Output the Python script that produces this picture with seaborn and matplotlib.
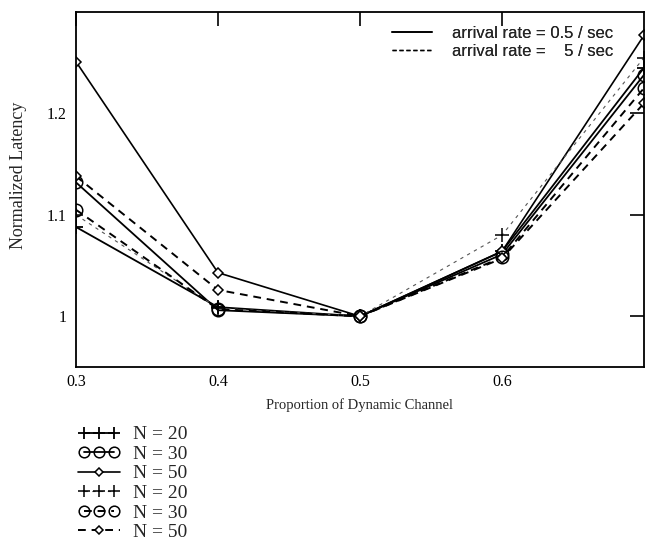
#!/usr/bin/env python3
"""
Normalized latency vs. proportion of dynamic channel
"""
import matplotlib
matplotlib.use('Agg')
import matplotlib.pyplot as plt
import seaborn as sns
from matplotlib.lines import Line2D
from matplotlib.legend_handler import HandlerLine2D

# data
proportion = [0.3, 0.4, 0.5, 0.6, 0.7]

slow_n20 = [1.088, 1.009, 1.0, 1.064, 1.245]
slow_n30 = [1.132, 1.006, 1.0, 1.061, 1.238]
slow_n50 = [1.251, 1.043, 1.0, 1.064, 1.277]

fast_n20 = [1.100, 1.008, 1.0, 1.080, 1.255]
fast_n30 = [1.105, 1.007, 1.0, 1.058, 1.225]
fast_n50 = [1.138, 1.026, 1.0, 1.057, 1.210]

series_labels = ['N = 20', 'N = 30', 'N = 50', 'N = 20', 'N = 30', 'N = 50']
rate_labels = ['arrival rate = 0.5 / sec', 'arrival rate =    5 / sec']

x_ticks = [0.3, 0.4, 0.5, 0.6]
x_tick_labels = ['0.3', '0.4', '0.5', '0.6']
y_ticks = [1.0, 1.1, 1.2]
y_tick_labels = ['1', '1.1', '1.2']

sns.set_style('white')
plt.rcParams['font.family'] = ['Liberation Serif', 'DejaVu Serif']

fig = plt.figure(figsize=(6.45, 5.4), dpi=100)
ax = fig.add_axes([76 / 645, 1 - 367 / 540, 568 / 645, 355 / 540])

DASH = (0, (4, 3))
styles = [
    dict(ls='-', lw=1.3, marker='+', ms=10, mew=1.3),
    dict(ls='-', lw=1.3, marker='o', ms=9, mew=1.1, mfc='none'),
    dict(ls='-', lw=1.2, marker='D', ms=5, mew=1.1, mfc='white'),
    dict(ls=(0, (3, 4)), lw=0.8, marker='+', ms=10, mew=1.1),
    dict(ls=DASH, lw=1.4, marker='o', ms=9, mew=1.1, mfc='none'),
    dict(ls=DASH, lw=1.4, marker='D', ms=5, mew=1.1, mfc='white'),
]
line_colors = ['black', 'black', 'black', '#555555', 'black', 'black']
all_series = [slow_n20, slow_n30, slow_n50, fast_n20, fast_n30, fast_n50]

handles = []
for values, st, col in zip(all_series, styles, line_colors):
    sns.lineplot(x=proportion, y=values, ax=ax, legend=False,
                 color=col, mec='black', **st)
    handles.append(ax.lines[-1])

ax.set_xlim(0.3, 0.7)
ax.set_ylim(0.95, 1.3)
ax.set_xticks(x_ticks)
ax.set_xticklabels(x_tick_labels)
ax.set_yticks(y_ticks)
ax.set_yticklabels(y_tick_labels)
ax.tick_params(direction='in', length=10, width=1.2, top=True, right=True,
               labelsize=11.5, colors='black')
ax.tick_params(axis='y', pad=7)
ax.tick_params(axis='x', pad=5)
for sp in ax.spines.values():
    sp.set_visible(True)
    sp.set_color('black')
    sp.set_linewidth(1.3)

ax.set_xlabel('Proportion of Dynamic Channel', fontsize=10.5, labelpad=6)
ax.set_ylabel('Normalized Latency', fontsize=13)
ax.yaxis.set_label_coords(-0.087, 0.54)

# arrival-rate key, inside upper right
rate_handles = [Line2D([], [], color='black', lw=1.2, ls='-'),
                Line2D([], [], color='black', lw=1.0, ls=(0, (3, 2)))]
key = ax.legend(rate_handles, rate_labels, loc='upper left',
                bbox_to_anchor=((392 - 76) / 568, 1 - 14 / 355),
                frameon=False, borderpad=0, borderaxespad=0,
                handlelength=2.4, handletextpad=1.2, labelspacing=0.2,
                prop={'family': ['Liberation Sans', 'DejaVu Sans'], 'size': 12})
ax.add_artist(key)

# series key below the axes
hmap = {}
for h, st in zip(handles, styles):
    hmap[h] = HandlerLine2D(numpoints=1 if st['marker'] == 'D' else 3)
fig.legend(handles, series_labels, handler_map=hmap, loc='upper left',
           bbox_to_anchor=(68 / 645, 1 - 416 / 540), frameon=False,
           borderpad=0, handlelength=2.15, handletextpad=0.7, labelspacing=0.1,
           fontsize=14, markerscale=0.85)

fig.savefig('out.png', dpi=100)
